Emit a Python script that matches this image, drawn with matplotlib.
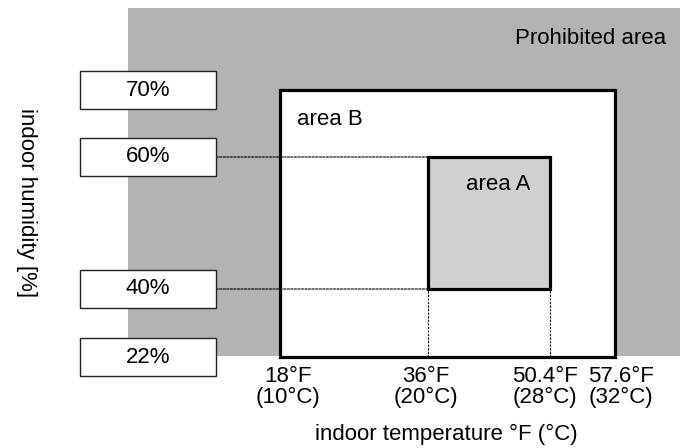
import numpy as np
import matplotlib
matplotlib.use("Agg")
import matplotlib.pyplot as plt
import matplotlib.patches as P
import matplotlib.transforms as T

plt.rcParams["font.family"] = ["Liberation Sans", "DejaVu Sans"]
plt.rcParams["font.size"] = 16

# data
humidity_levels = [22, 40, 60, 70]
humidity_labels = ["22%", "40%", "60%", "70%"]
temps_c = [10, 20, 28, 32]
temp_labels = ["18°F\n(10°C)", "36°F\n(20°C)", "50.4°F\n(28°C)", "57.6°F\n(32°C)"]
area_b = {"t": (10, 32), "h": (22, 70)}
area_a = {"t": (20, 28), "h": (40, 60)}

# schematic (non linear) placement of the levels, in pixels
temp_px = [280, 428, 550, 615]
hum_px = [91, 159, 291, 358]
label_shift = [8, -2, -5, 6]


def piecewise(xp, fp):
    xp = np.asarray(xp, float)
    fp = np.asarray(fp, float)
    s0 = (fp[1] - fp[0]) / (xp[1] - xp[0])
    s1 = (fp[-1] - fp[-2]) / (xp[-1] - xp[-2])

    def f(x):
        x = np.asarray(x, float)
        y = np.interp(x, xp, fp)
        y = np.where(x < xp[0], fp[0] + (x - xp[0]) * s0, y)
        y = np.where(x > xp[-1], fp[-1] + (x - xp[-1]) * s1, y)
        return y

    return f


fwd_x, inv_x = piecewise(temps_c, temp_px), piecewise(temp_px, temps_c)
fwd_y, inv_y = piecewise(humidity_levels, hum_px), piecewise(hum_px, humidity_levels)

fig = plt.figure(figsize=(6.8, 4.48), dpi=100)
ax = fig.add_axes([128 / 680, 92 / 448, 552 / 680, 348 / 448])
ax.set_facecolor("#b3b3b3")
ax.set_xscale("function", functions=(fwd_x, inv_x))
ax.set_yscale("function", functions=(fwd_y, inv_y))
ax.set_xlim(float(inv_x(128)), float(inv_x(680)))
ax.set_ylim(float(inv_y(92)), float(inv_y(440)))
ax.set_xticks([])
ax.set_yticks([])
for s in ax.spines.values():
    s.set_visible(False)

(b0, b1), (bh0, bh1) = area_b["t"], area_b["h"]
ax.add_patch(P.Rectangle((b0, bh0), b1 - b0, bh1 - bh0, facecolor="white",
                         edgecolor="black", linewidth=2.3, zorder=2, clip_on=False))
(a0, a1), (ah0, ah1) = area_a["t"], area_a["h"]
ax.add_patch(P.Rectangle((a0, ah0), a1 - a0, ah1 - ah0, facecolor="#d0d0d0",
                         edgecolor="black", linewidth=2.3, zorder=4))

dots = (0, (2, 1.2))
ax.vlines([a0, a1], bh0, ah0, colors="black", linewidth=0.8, linestyles=dots, zorder=3)

# level boxes left of the chart
blend = T.blended_transform_factory(ax.transAxes, ax.transData)
box_x = (148 - 128) / 552
box_right = (216 - 128) / 552
for lvl, lab in zip(humidity_levels, humidity_labels):
    tr = fig.dpi_scale_trans + T.ScaledTranslation(box_x, lvl, blend)
    ax.add_patch(P.Rectangle((-0.68, -0.19), 1.36, 0.38, transform=tr, facecolor="white",
                             edgecolor="#222222", linewidth=1.0, clip_on=False, zorder=5))
    ax.text(box_x, lvl, lab, transform=blend, ha="center", va="center", zorder=6)

for lvl in (ah0, ah1):
    ax.annotate("", xy=(a0, lvl), xycoords="data", xytext=(box_right, lvl), textcoords=blend,
                arrowprops=dict(arrowstyle="-", linestyle=dots, linewidth=0.8,
                                color="black", shrinkA=0, shrinkB=0), zorder=3)

# temperature labels under the chart
xblend = T.blended_transform_factory(ax.transData, ax.transAxes)
for t, lab, dx in zip(temps_c, temp_labels, label_shift):
    tr = xblend + T.ScaledTranslation(dx / 100, -0.10, fig.dpi_scale_trans)
    ax.text(t, 0, lab, transform=tr, ha="center", va="top", linespacing=1.0,
            multialignment="center", clip_on=False)

fig.text(446 / 680, 1 - 434 / 448, "indoor temperature °F (°C)", ha="center", va="center")
fig.text(26 / 680, 1 - 203 / 448, "indoor humidity [%]", rotation=-90,
         ha="center", va="center")
ax.text(666, 448 - 38, "Prohibited area", ha="right", va="center", transform=None)
ax.text(297, 448 - 119, "area B", ha="left", va="center", transform=None, zorder=5)
ax.text(466, 448 - 184, "area A", ha="left", va="center", transform=None, zorder=5)

fig.savefig("out.png", dpi=100)
